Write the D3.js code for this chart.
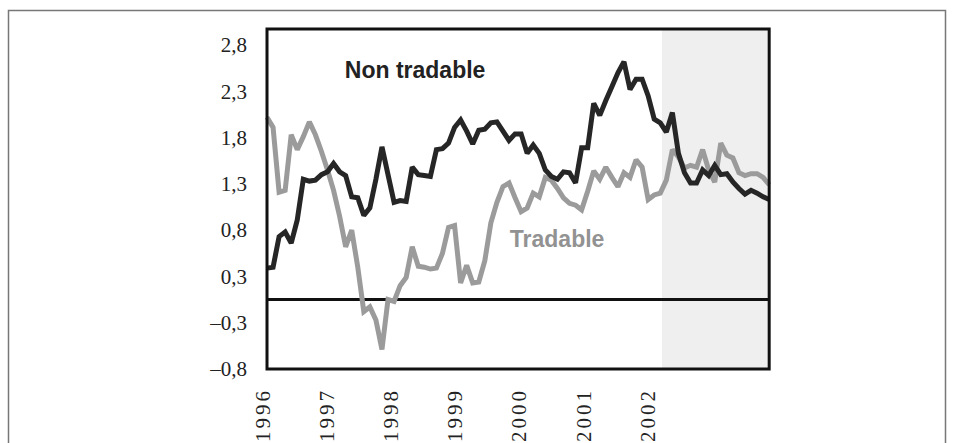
<!DOCTYPE html>
<html>
<head>
<meta charset="utf-8">
<script src="https://cdn.jsdelivr.net/npm/d3@7"></script>
<style>
  body { margin: 0; background: #fff; }
  svg { display: block; }
  .serif text { font-family: "Liberation Serif", "Times New Roman", Times, serif; font-size: 21px; fill: #222; }
</style>
</head>
<body>
<svg class="chart"></svg>
<script>
// year labels on the x axis
var years = [1996, 1997, 1998, 1999, 2000, 2001, 2002];

// y ticks sit on quarter values, printed rounded to one decimal
var yTicks = [-0.75, -0.25, 0.25, 0.75, 1.25, 1.75, 2.25, 2.75];
var yTickLabels = ["\u20130,8", "\u20130,3", "0,3", "0,8", "1,3", "1,8", "2,3", "2,8"];

var nonTradable = [
  0.34, 0.35, 0.68, 0.73, 0.61, 0.86, 1.30, 1.28, 1.29, 1.35,
  1.38, 1.47, 1.38, 1.34, 1.11, 1.10, 0.91, 0.99, 1.30, 1.65,
  1.35, 1.05, 1.07, 1.06, 1.43, 1.35, 1.34, 1.33, 1.62, 1.63,
  1.69, 1.86, 1.94, 1.82, 1.68, 1.83, 1.84, 1.91, 1.92, 1.82,
  1.72, 1.79, 1.79, 1.58, 1.67, 1.58, 1.40, 1.33, 1.30, 1.38,
  1.37, 1.26, 1.64, 1.64, 2.12, 1.99, 2.15, 2.30, 2.45, 2.57,
  2.27, 2.38, 2.38, 2.20, 1.95, 1.91, 1.81, 2.02, 1.58, 1.37,
  1.26, 1.26, 1.40, 1.34, 1.45, 1.35, 1.36, 1.27, 1.20, 1.14,
  1.18, 1.15, 1.11, 1.08
];

var tradable = [
  1.97, 1.86, 1.16, 1.18, 1.78, 1.62, 1.76, 1.92, 1.78, 1.60,
  1.40, 1.18, 0.90, 0.57, 0.75, 0.35, -0.13, -0.08, -0.22, -0.54,
  0.00, -0.02, 0.15, 0.24, 0.57, 0.36, 0.35, 0.33, 0.34, 0.50,
  0.78, 0.80, 0.18, 0.37, 0.18, 0.19, 0.42, 0.83, 1.05, 1.22,
  1.26, 1.10, 0.95, 0.99, 1.15, 1.11, 1.32, 1.29, 1.20, 1.10,
  1.04, 1.02, 0.97, 1.17, 1.39, 1.30, 1.43, 1.32, 1.22, 1.37,
  1.32, 1.51, 1.43, 1.08, 1.13, 1.15, 1.29, 1.62, 1.54, 1.42,
  1.45, 1.43, 1.62, 1.40, 1.27, 1.69, 1.56, 1.53, 1.37, 1.34,
  1.36, 1.36, 1.32, 1.24
];

var seriesStart = 1996.078, seriesEnd = 2003.9;   // first and last observation (years)
var shadeFrom = 2002.23;                           // projection period

var width = 958, height = 443;

var svg = d3.select(".chart")
    .attr("width", width)
    .attr("height", height);

var x = d3.scaleLinear().domain([1996, 2004]).range([262, 262 + 8 * 64.2]);
var y = d3.scaleLinear().domain([-0.75, 2.923]).range([369, 29]);

var plotLeft = x(seriesStart), plotRight = x(seriesEnd),
    plotTop = y.range()[1], plotBottom = y.range()[0];

var step = (seriesEnd - seriesStart) / (nonTradable.length - 1);
var t = d3.range(nonTradable.length).map(function(i) { return seriesStart + i * step; });

// outer frame
svg.append("rect")
    .attr("x", 8.5).attr("y", 10.5)
    .attr("width", 937).attr("height", 460)
    .attr("fill", "none")
    .attr("stroke", "#777")
    .attr("stroke-width", 1.5);

// shaded projection area
svg.append("rect")
    .attr("x", x(shadeFrom)).attr("y", plotTop)
    .attr("width", plotRight - x(shadeFrom)).attr("height", plotBottom - plotTop)
    .attr("fill", "#efefef");

// zero line
svg.append("line")
    .attr("x1", plotLeft).attr("x2", plotRight)
    .attr("y1", y(0)).attr("y2", y(0))
    .attr("stroke", "#111")
    .attr("stroke-width", 3);

var line = d3.line()
    .x(function(d, i) { return x(t[i]); })
    .y(function(d) { return y(d); });

svg.append("path")
    .datum(tradable)
    .attr("d", line)
    .attr("fill", "none")
    .attr("stroke", "#9b9b9b")
    .attr("stroke-width", 5)
    .attr("stroke-linejoin", "miter")
    .attr("stroke-miterlimit", 2);

svg.append("path")
    .datum(nonTradable)
    .attr("d", line)
    .attr("fill", "none")
    .attr("stroke", "#262626")
    .attr("stroke-width", 5)
    .attr("stroke-linejoin", "miter")
    .attr("stroke-miterlimit", 2);

// plot frame
svg.append("rect")
    .attr("x", plotLeft).attr("y", plotTop)
    .attr("width", plotRight - plotLeft).attr("height", plotBottom - plotTop)
    .attr("fill", "none")
    .attr("stroke", "#111")
    .attr("stroke-width", 3);

// y axis labels
var yAxis = d3.axisLeft(y)
    .tickValues(yTicks)
    .tickFormat(function(d, i) { return yTickLabels[i]; })
    .tickSize(0)
    .tickPadding(20);

svg.append("g")
    .attr("class", "serif")
    .attr("transform", "translate(" + plotLeft + ",0)")
    .call(yAxis)
    .call(function(g) { g.select(".domain").remove(); });

// x axis labels, rotated
var xAxis = d3.axisBottom(x)
    .tickValues(years)
    .tickFormat(d3.format("d"))
    .tickSize(0);

svg.append("g")
    .attr("class", "serif")
    .attr("transform", "translate(0," + plotBottom + ")")
    .call(xAxis)
    .call(function(g) { g.select(".domain").remove(); })
    .selectAll("text")
    .attr("transform", "rotate(-90)")
    .attr("x", -19)
    .attr("y", 0)
    .attr("dy", "0.34em")
    .style("letter-spacing", "3px")
    .style("text-anchor", "end");

// series labels
svg.append("text")
    .attr("x", x(1997.29)).attr("y", y(2.39))
    .style("font-family", "'Liberation Sans', Arial, sans-serif")
    .style("font-weight", "bold")
    .style("font-size", "23px")
    .attr("fill", "#222")
    .text("Non tradable");

svg.append("text")
    .attr("x", x(1999.86)).attr("y", y(0.568))
    .style("font-family", "'Liberation Sans', Arial, sans-serif")
    .style("font-weight", "bold")
    .style("font-size", "23px")
    .attr("fill", "#929292")
    .text("Tradable");
</script>
</body>
</html>
